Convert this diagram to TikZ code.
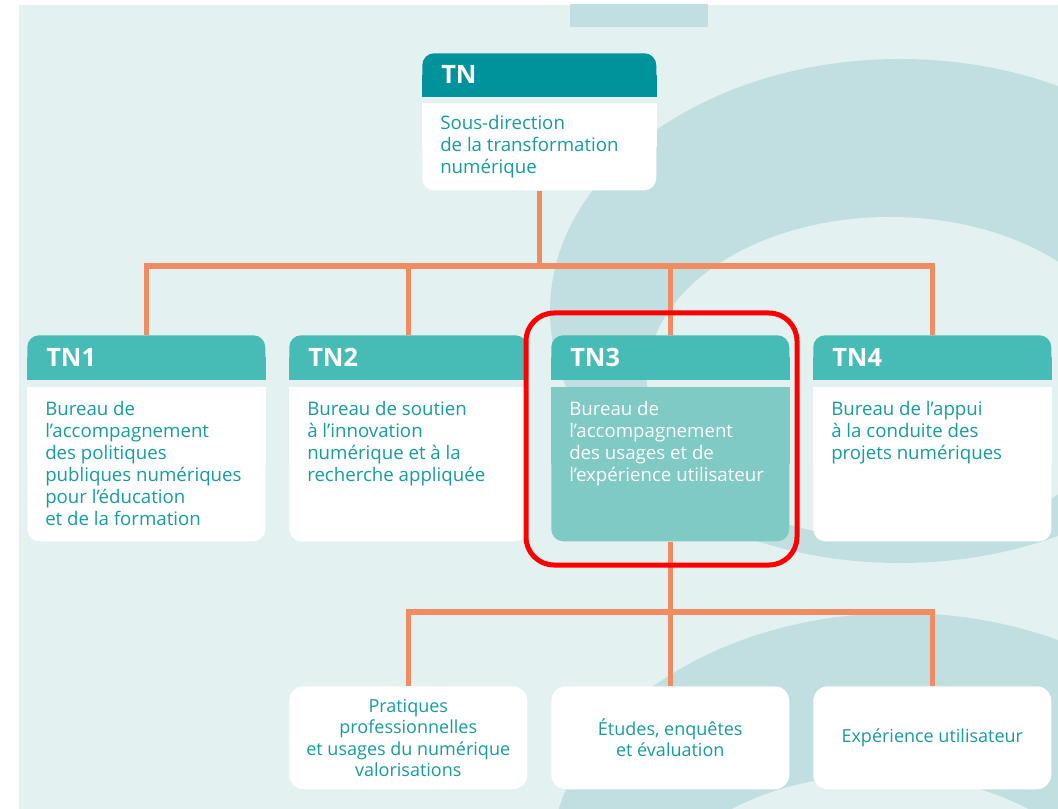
\documentclass[tikz,border=0pt]{standalone}
\usepackage{fontspec}
\setmainfont{Open Sans}
\newdimen\pxu \pxu=0.75pt
\definecolor{bgc}{HTML}{E3F1F1}
\definecolor{decc}{HTML}{C1DFE1}
\definecolor{tnhc}{HTML}{00939B}
\definecolor{hdrc}{HTML}{47BBB5}
\definecolor{selc}{HTML}{80CAC5}
\definecolor{txtc}{HTML}{169C9F}
\definecolor{orc}{HTML}{F08B62}
\definecolor{hlc}{HTML}{FF0000}
\begin{document}
\begin{tikzpicture}[x=0.75pt,y=-0.75pt,line join=miter,
  boxh/.style={rectangle,rounded corners=9pt,anchor=north west,inner sep=0pt,minimum width=238\pxu,minimum height=44\pxu,fill=hdrc},
  boxb/.style={rectangle,rounded corners=9pt,anchor=north west,inner sep=0pt,minimum width=238\pxu,minimum height=154\pxu,fill=white},
  lbl/.style={anchor=west,inner sep=0pt,xshift=19\pxu,text=white,font=\fontsize{19}{22}\selectfont\bfseries},
  btxt/.style={anchor=north west,inner sep=0pt,xshift=18\pxu,yshift=-12.6\pxu,align=left,text=txtc,font=\fontsize{14}{16.5}\selectfont},
  leaf/.style={rectangle,rounded corners=11pt,anchor=north west,inner sep=0pt,minimum width=238\pxu,minimum height=103\pxu,fill=white,text=txtc,align=center,font=\fontsize{13.5}{16.1}\selectfont},
  conn/.style={draw=orc,line width=4.1pt},
  hl/.style={draw=hlc,line width=3.75pt,rounded corners=21pt,minimum width=271\pxu,minimum height=252\pxu,inner sep=0pt}
]
\useasboundingbox (0,0) rectangle (1058,809);
% background
\fill[bgc] (19,5) rectangle (1058,809);
\begin{scope}
  \clip (19,5) rectangle (1058,809);
  \fill[decc] (570,0) rectangle (708,27);
  \fill[decc] (900,311) ellipse [x radius=350\pxu, y radius=252\pxu];
  \fill[bgc] (890,378) ellipse [x radius=243\pxu, y radius=161\pxu];
  \fill[decc] (900,865) ellipse [x radius=350\pxu, y radius=252\pxu];
  \fill[bgc] (880,920) ellipse [x radius=230\pxu, y radius=145\pxu];
\end{scope}

% TN
\node[boxh,fill=tnhc,minimum width=234\pxu,minimum height=43\pxu] (tnh) at (422,53) {};
\fill[tnhc] (tnh.west) rectangle (tnh.south east);
\node[lbl] (tnl) at (tnh.west) {TN};
\node[boxb,minimum width=234\pxu,minimum height=87\pxu] (tnb) at (422,103) {};
\fill[white] (tnb.north west) rectangle (tnb.east);
\node[btxt,yshift=2\pxu] (tnt) at (tnb.north west) {\strut Sous-direction\\de la transformation\\numérique};

% TN1
\node[boxh] (tn1h) at (27,335) {};
\fill[hdrc] (tn1h.west) rectangle (tn1h.south east);
\node[lbl] (tn1l) at (tn1h.west) {TN1};
\node[boxb] (tn1b) at (27,387) {};
\fill[white] (tn1b.north west) rectangle (tn1b.east);
\node[btxt] (tn1t) at (tn1b.north west) {\strut Bureau de\\l’accompagnement\\des politiques\\publiques numériques\\pour l’éducation\\et de la formation};

% TN2
\node[boxh] (tn2h) at (289,335) {};
\fill[hdrc] (tn2h.west) rectangle (tn2h.south east);
\node[lbl] (tn2l) at (tn2h.west) {TN2};
\node[boxb] (tn2b) at (289,387) {};
\fill[white] (tn2b.north west) rectangle (tn2b.east);
\node[btxt] (tn2t) at (tn2b.north west) {\strut Bureau de soutien\\à l’innovation\\numérique et à la\\recherche appliquée};

% TN3
\node[boxh] (tn3h) at (551,335) {};
\fill[hdrc] (tn3h.west) rectangle (tn3h.south east);
\node[lbl] (tn3l) at (tn3h.west) {TN3};
\node[boxb,fill=selc] (tn3b) at (551,387) {};
\fill[selc] (tn3b.north west) rectangle (tn3b.east);
\node[btxt,text=white] (tn3t) at (tn3b.north west) {\strut Bureau de\\l’accompagnement\\des usages et de\\l’expérience utilisateur};

% TN4
\node[boxh] (tn4h) at (813,335) {};
\fill[hdrc] (tn4h.west) rectangle (tn4h.south east);
\node[lbl] (tn4l) at (tn4h.west) {TN4};
\node[boxb] (tn4b) at (813,387) {};
\fill[white] (tn4b.north west) rectangle (tn4b.east);
\node[btxt] (tn4t) at (tn4b.north west) {\strut Bureau de l’appui\\à la conduite des\\projets numériques};

% leaves
\node[leaf] (lf1) at (289,686) {Pratiques\\professionnelles\\et usages du numérique\\valorisations};
\node[leaf] (lf2) at (551,686) {Études, enquêtes\\et évaluation};
\node[leaf] (lf3) at (813,686) {Expérience utilisateur};

% connectors
\coordinate (bus1) at (0,266);
\coordinate (bus2) at (0,612);
\draw[conn] (tnb.south) -- (tnb.south |- bus1);
\draw[conn] (tn1h.north) -- (tn1h.north |- bus1) -- (tn4h.north |- bus1) -- (tn4h.north);
\draw[conn] (tn2h.north) -- (tn2h.north |- bus1);
\draw[conn] (tn3h.north) -- (tn3h.north |- bus1);
\draw[conn] (tn3b.south) -- (tn3b.south |- bus2);
\draw[conn] (lf1.north) -- (lf1.north |- bus2) -- (lf3.north |- bus2) -- (lf3.north);
\draw[conn] (lf2.north) -- (lf2.north |- bus2);

% highlight
\node[hl] (hlbox) at (661.5,439) {};
\end{tikzpicture}
\end{document}
